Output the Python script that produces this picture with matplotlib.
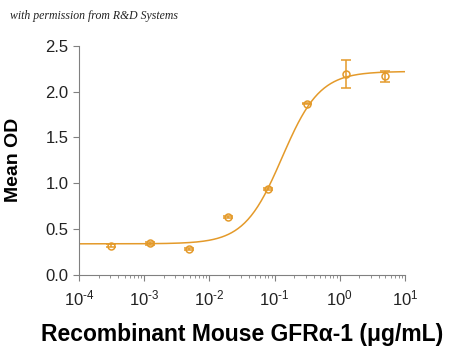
import matplotlib
matplotlib.use("Agg")
import matplotlib.pyplot as plt
import numpy as np

plt.rcParams['font.family'] = ['Liberation Sans', 'DejaVu Sans']
plt.rcParams['mathtext.fontset'] = 'custom'
plt.rcParams['mathtext.rm'] = 'Liberation Sans'
plt.rcParams['mathtext.default'] = 'regular'

# measured points (4-fold dilutions)
conc = [0.000305, 0.00122, 0.00488, 0.0195, 0.078, 0.3125, 1.25, 5.0]
od = [0.32, 0.345, 0.28, 0.63, 0.94, 1.87, 2.19, 2.17]
err = [0.02, 0.02, 0.01, 0.01, 0.01, 0.01, 0.15, 0.06]

# 4PL fit parameters
bottom, top, ec50, hill = 0.34, 2.22, 0.13, 1.5

xtick_vals = [1e-4, 1e-3, 1e-2, 1e-1, 1e0, 1e1]
xtick_labels = [r'$10^{\text{-}4}$', r'$10^{\text{-}3}$', r'$10^{\text{-}2}$',
                r'$10^{\text{-}1}$', r'$10^{0}$', r'$10^{1}$']

col = '#E49A2A'

fig = plt.figure(figsize=(4.5, 3.5), dpi=100)
ax = fig.add_axes([0.1756, 0.2143, 0.7244, 0.655])

xs = np.logspace(-4, 1, 300)
fit = bottom + (top - bottom) / (1 + (ec50 / xs) ** hill)
ax.plot(xs, fit, color=col, lw=1.1)
ax.errorbar(conc, od, yerr=err, fmt='o', mfc='none', mec=col, ecolor=col,
            ms=5, mew=1.1, elinewidth=1.1, capsize=3.5, capthick=1.1)

ax.set_xscale('log')
ax.set_xlim(1e-4, 1e1)
ax.set_ylim(0, 2.5)
ax.set_yticks([0, 0.5, 1.0, 1.5, 2.0, 2.5])
ax.set_yticklabels(['0.0', '0.5', '1.0', '1.5', '2.0', '2.5'])
ax.set_xticks(xtick_vals)
ax.set_xticklabels(xtick_labels)

for s in ['top', 'right']:
    ax.spines[s].set_visible(False)
for s in ['left', 'bottom']:
    ax.spines[s].set_color('#808080')
    ax.spines[s].set_linewidth(0.8)
ax.tick_params(which='both', colors='#808080', labelcolor='#222222', labelsize=12)
ax.tick_params(which='major', length=4)
ax.tick_params(which='minor', length=2.5)
ax.tick_params(axis='x', pad=6)

ax.set_ylabel('Mean OD', fontsize=14, fontweight='bold', labelpad=17)
ax.set_xlabel('Recombinant Mouse GFR\u03b1-1 (\u03bcg/mL)', fontsize=16.5,
              fontweight='bold', labelpad=10)

fig.text(0.022, 0.945, 'with permission from R&D Systems', fontsize=8.5,
         style='italic', family='Liberation Serif', color='#222222')

fig.savefig('out.png', dpi=100)
